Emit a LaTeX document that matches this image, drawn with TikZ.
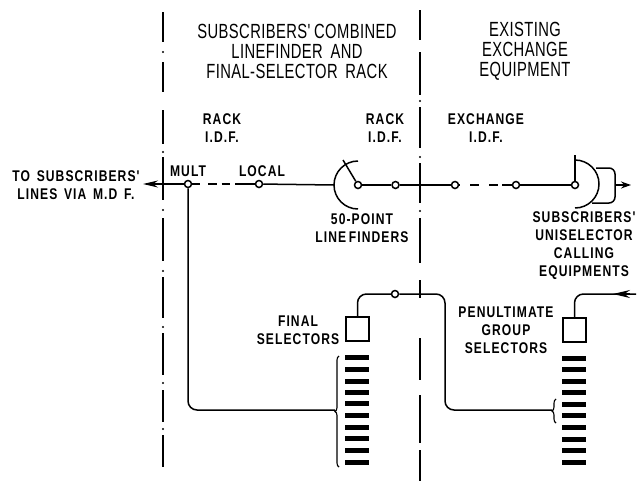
\documentclass[tikz,border=0pt]{standalone}
\usepackage{fontspec}
\usetikzlibrary{arrows.meta,decorations.pathreplacing}
\newfontfamily\headfont[FakeStretch=0.72,LetterSpace=2,WordSpace=1.7]{Liberation Sans}
\newfontfamily\tagfont[FakeStretch=0.78,LetterSpace=7,WordSpace=1.5]{Liberation Sans}
\tikzset{
    head/.style={align=center, inner sep=0pt, font=\headfont\fontsize{20.5}{20}\selectfont},
    tag/.style={align=center, inner sep=0pt, font=\tagfont\bfseries\fontsize{15.5}{18}\selectfont},
    pt/.style={circle, draw, fill=white, line width=1.5pt, inner sep=0pt, minimum size=7pt},
    wire/.style={line width=1.5pt},
    selbox/.style={draw, line width=1.4pt, inner sep=0pt, minimum width=23pt, minimum height=24pt}
}
\begin{document}
\begin{tikzpicture}[x=1pt, y=-1pt, >=stealth]
    \useasboundingbox (0,0) rectangle (637,482);

    % Rack boundaries
    \foreach \a/\b in {12/42,62/92,110/144,157/200,218/261,277/318,333/375,390/422,435/467}
        \draw[line width=1.3pt] (163,\a) -- (163,\b);
    \foreach \a in {52,152,210,271,327,383,429}
        \fill (163,\a) circle (1.2);
    \foreach \a/\b in {10/40,52/95,107/148,163/203,218/263,280/298,338/380,395/443,450/481}
        \draw[line width=1.3pt] (420,\a) -- (420,\b);
    \foreach \a in {101,157,211}
        \fill (420,\a) circle (1.2);

    % Headings
    \node[head] at (297,51) {SUBSCRIBERS'\kern-4pt{} COMBINED\\LINEFINDER AND\\FINAL-SELECTOR RACK};
    \node[head] at (525,51) {EXISTING\\EXCHANGE\\EQUIPMENT};

    % Labels
    \node[tag] at (222,128.5) {RACK\\I.D.F.};
    \node[tag] at (385,128.5) {RACK\\I.D.F.};
    \node[tag] at (486,128.5) {EXCHANGE\\I.D.F.};
    \node[tag] at (188,171) {MULT};
    \node[tag] at (262,171) {LOCAL};
    \node[tag] at (76,185) {TO SUBSCRIBERS'\\LINES VIA M.D F.};
    \node[tag] at (362,228.5) {50-POINT\\LINE\kern-4pt{} FINDERS};
    \node[tag] at (584,246) {SUBSCRIBERS'\\UNISELECTOR\\CALLING\\EQUIPMENTS};
    \node[tag] at (298,330) {FINAL\\SELECTORS};
    \node[tag] at (506,330) {PENULTIMATE\\GROUP\\SELECTORS};

    % Connection points
    \node[pt] (mult) at (188,184) {};
    \node[pt] (local) at (259,184) {};
    \node[pt] (wiper) at (358,185) {};
    \node[pt] (rackidf) at (395.5,185) {};
    \node[pt] (exchidf) at (455,185) {};
    \node[pt] (exchend) at (516,185) {};
    \node[pt] (unisel) at (575,185) {};
    \node[pt] (junction) at (395,294) {};
    \node[selbox] (finalbox) at (357.5,329) {};
    \node[selbox] (penbox) at (574.5,330) {};

    \coordinate (leftend) at (143,184);
    \coordinate (multa) at (200,184);
    \coordinate (multc) at (208,184);
    \coordinate (multb) at (235,184);
    \coordinate (arcleft) at (334,185);
    \coordinate (wipertip) at (343,160);
    \coordinate (exa) at (460,185);
    \coordinate (exc) at (470,185);
    \coordinate (exb) at (502,185);
    \coordinate (unitop) at (575,155);
    \coordinate (outa) at (615,185);
    \coordinate (outb) at (631,185);
    \coordinate (finbrace) at (335,410);
    \coordinate (penbrace) at (552,410);
    \coordinate (inend) at (636,294);
    \coordinate (intail) at (630,294);
    \coordinate (intip) at (613,294);

    % Subscriber's line
    \draw[wire, -{Stealth[length=15pt,width=7pt]}] (mult) -- (leftend);
    \draw[wire] (mult) -- (multa);
    \draw[wire, dash pattern=on 8.5pt off 5pt] (multc) -- (multb);
    \draw[wire] (multb) -- (local);
    \draw[wire] (local) -- (arcleft);
    \draw[wire] (wiper) -- (wipertip);
    \draw[wire] (wiper) -- (rackidf);
    \draw[wire] (rackidf) -- (exchidf);
    \draw[wire] (exchidf) -- (exa);
    \draw[wire, dash pattern=on 9pt off 10pt] (exc) -- (exb);
    \draw[wire] (exb) -- (exchend);
    \draw[wire] (exchend) -- (unisel);
    \draw[wire] (unisel) -- (unitop);

    % Linefinder and uniselector arcs
    \draw[wire] (358,161) arc[start angle=90, end angle=270, radius=24pt];
    \draw[wire] (575,160) arc[start angle=90, end angle=-90, radius=24pt];
    \draw[wire, rounded corners=6pt] (596,168) -- (615,168) -- (615,203) -- (592,203);
    \draw[wire, -{Stealth[length=10pt,width=7pt]}] (outa) -- (outb);

    % Selector wiring
    \draw[wire, rounded corners=9pt] (mult) |- (finbrace);
    \draw[wire, rounded corners=9pt] (finalbox.north) |- (junction);
    \draw[wire, rounded corners=9pt] (junction) -- (445,294) -- (445,410) -- (penbrace);
    \draw[wire, rounded corners=9pt] (penbox.north) |- (inend);
    \draw[wire, -{Stealth[length=17pt,width=8pt]}] (intail) -- (intip);

    % Braces
    \draw[line width=1.1pt, decorate, decoration={brace, amplitude=4pt}] (339,467) -- (339,356);
    \draw[line width=1.1pt, decorate, decoration={brace, amplitude=4pt}] (556,423) -- (556,399);

    % Selector banks
    \foreach \y in {357,369,381,392,403,415,427,438,450,462}
        \fill (345,\y-2.5) rectangle (369,\y+2.5);
    \foreach \y in {358,369,381,392,404,415,427,439,450,462}
        \fill (562,\y-2.5) rectangle (586,\y+2.5);
\end{tikzpicture}
\end{document}
